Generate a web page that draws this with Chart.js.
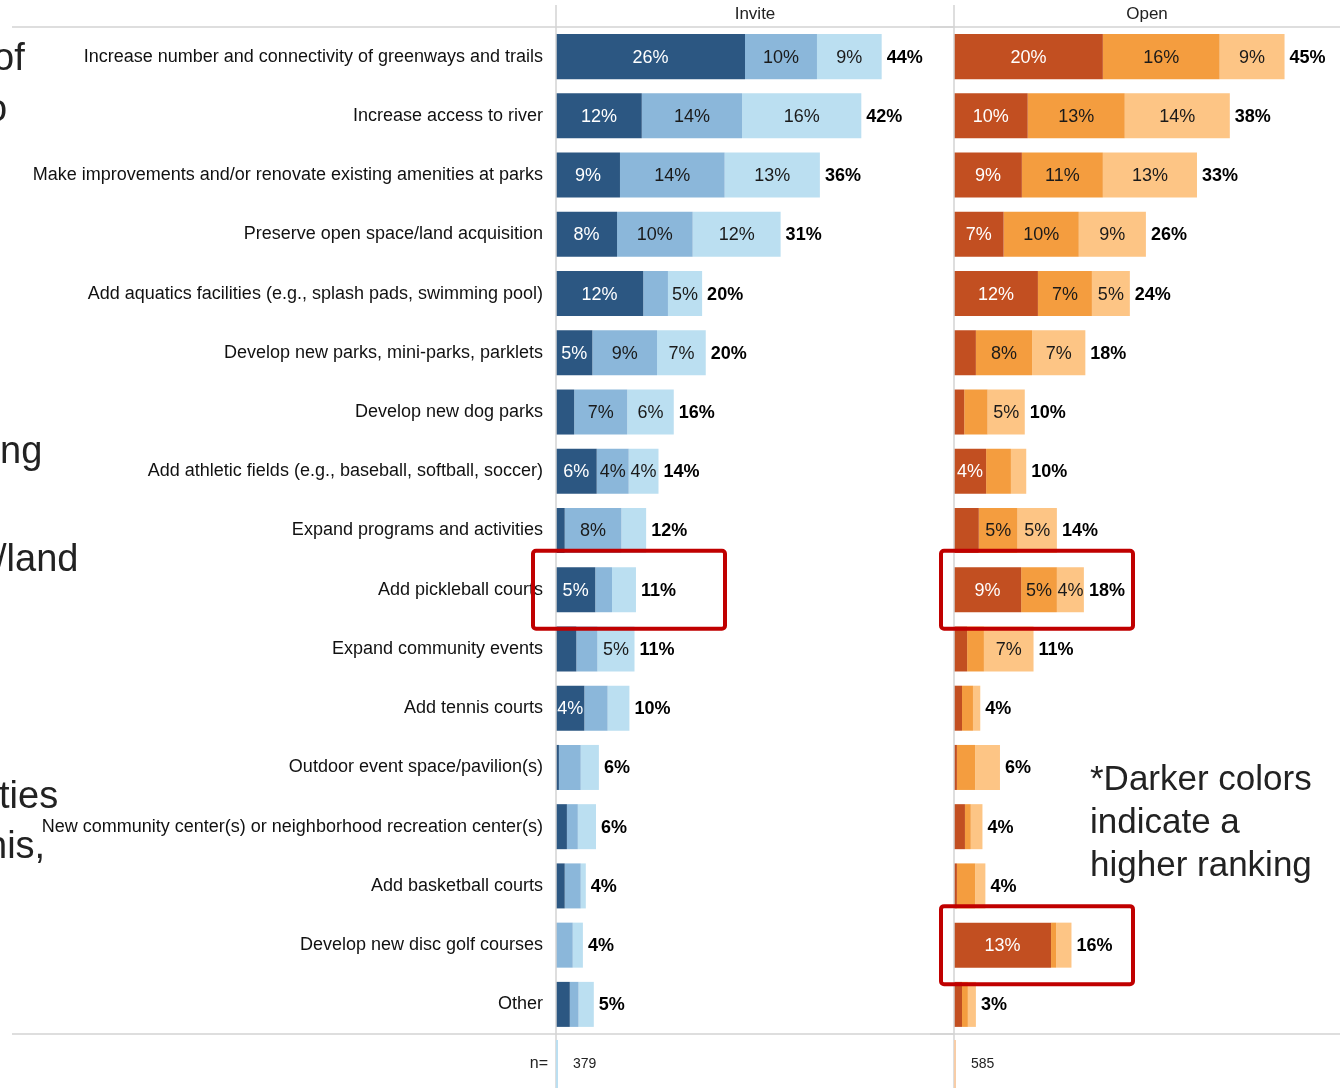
<!DOCTYPE html>
<html>
<head>
<meta charset="utf-8">
<script src="https://cdn.jsdelivr.net/npm/chart.js@4.4.1/dist/chart.umd.min.js"></script>
<style>
  html, body { margin: 0; padding: 0; background: #fff; }
  #wrap { position: relative; width: 1340px; height: 1088px; overflow: hidden; font-family: "Liberation Sans", Arial, sans-serif; }
  #invite { position: absolute; left: 0; top: 0; }
  #open { position: absolute; left: 930px; top: 0; }
  .slide { position: absolute; font-size: 38px; color: #222; white-space: nowrap; line-height: 1; }
  .note { position: absolute; left: 1090px; top: 756px; font-size: 35px; line-height: 43px; color: #222; white-space: nowrap; }
</style>
</head>
<body>
<div id="wrap">
  <canvas id="invite" width="954" height="1088"></canvas>
  <canvas id="open" width="410" height="1088"></canvas>
  <!-- bits of the slide text behind the chart, cut by the left edge -->
  <div class="slide" style="left:-7px; top:38px;">of</div>
  <div class="slide" style="left:-14px; top:89px;">o</div>
  <div class="slide" style="left:0px; top:431px;">ng</div>
  <div class="slide" style="left:-4px; top:539px;">/land</div>
  <div class="slide" style="left:-1px; top:776px;">ties</div>
  <div class="slide" style="left:-14px; top:826px;">his,</div>
  <div class="note">*Darker colors<br>indicate a<br>higher ranking</div>
</div>
<script>
const categories = [
  "Increase number and connectivity of greenways and trails",
  "Increase access to river",
  "Make improvements and/or renovate existing amenities at parks",
  "Preserve open space/land acquisition",
  "Add aquatics facilities (e.g., splash pads, swimming pool)",
  "Develop new parks, mini-parks, parklets",
  "Develop new dog parks",
  "Add athletic fields (e.g., baseball, softball, soccer)",
  "Expand programs and activities",
  "Add pickleball courts",
  "Expand community events",
  "Add tennis courts",
  "Outdoor event space/pavilion(s)",
  "New community center(s) or neighborhood recreation center(s)",
  "Add basketball courts",
  "Develop new disc golf courses",
  "Other"
];
const ranks = ["1st choice", "2nd choice", "3rd choice"];

// Invite sample, % of respondents
const invite1 = [26, 11.8, 8.8, 8.4, 12, 5, 2.5, 5.6, 1.2, 5.4, 2.8, 3.9, 0.4, 1.5, 1.2, 0, 1.9];
const invite2 = [9.9, 13.8, 14.4, 10.4, 3.4, 8.9, 7.3, 4.4, 7.8, 2.3, 2.9, 3.2, 3.0, 1.5, 2.2, 2.3, 1.2];
const invite3 = [8.9, 16.4, 13.1, 12.1, 4.7, 6.7, 6.4, 4.1, 3.4, 3.3, 5.1, 3.0, 2.5, 2.5, 0.7, 1.4, 2.1];
const inviteTotal = [44, 42, 36, 31, 20, 20, 16, 14, 12, 11, 11, 10, 6, 6, 4, 4, 5];

// Open sample
const open1 = [20.4, 10.1, 9.3, 6.8, 11.5, 3.0, 1.4, 4.4, 3.4, 9.2, 1.8, 1.1, 0.4, 1.5, 0.4, 13.3, 1.1];
const open2 = [16, 13.3, 11.1, 10.3, 7.4, 7.7, 3.2, 3.4, 5.3, 4.9, 2.3, 1.5, 2.5, 0.8, 2.5, 0.7, 0.8];
const open3 = [8.9, 14.4, 12.9, 9.2, 5.2, 7.3, 5.1, 2.1, 5.4, 3.7, 6.8, 1.0, 3.4, 1.6, 1.4, 2.1, 1.1];
const openTotal = [45, 38, 33, 26, 24, 18, 10, 10, 14, 18, 11, 4, 6, 4, 4, 16, 3];

const inviteN = 379;
const openN = 585;

const BLUES = ["#2C5782", "#8BB7DA", "#BBDFF1"];
const ORANGES = ["#C24F21", "#F49D3F", "#FDC585"];
const FONT = "'Liberation Sans', Arial, sans-serif";
Chart.defaults.font.family = FONT;

function panelPlugin(opt) {
  return {
    id: "panel",
    afterDatasetsDraw(chart) {
      const { ctx, chartArea: a, scales: { y } } = chart;
      ctx.save();

      // frame lines
      ctx.strokeStyle = "#d3d3d3";
      ctx.lineWidth = 1.5;
      ctx.beginPath();
      ctx.moveTo(opt.lineFrom, a.top); ctx.lineTo(chart.width, a.top);
      ctx.moveTo(opt.lineFrom, a.bottom); ctx.lineTo(chart.width, a.bottom);
      ctx.stroke();
      ctx.beginPath();
      ctx.moveTo(a.left, 5); ctx.lineTo(a.left, chart.height);
      ctx.stroke();

      // header
      ctx.fillStyle = "#222";
      ctx.font = "17px " + FONT;
      ctx.textAlign = "center";
      ctx.textBaseline = "middle";
      ctx.fillText(opt.title, (a.left + a.right) / 2, 14);

      // segment labels
      ctx.font = "18px " + FONT;
      chart.data.datasets.forEach((ds, di) => {
        chart.getDatasetMeta(di).data.forEach((bar, i) => {
          const v = ds.data[i];
          if (v < 3.5) return;
          ctx.fillStyle = di === 0 ? "#fff" : "#1a1a1a";
          ctx.fillText(Math.round(v) + "%", (bar.x + bar.base) / 2, bar.y + 1);
        });
      });

      // totals
      const last = chart.getDatasetMeta(chart.data.datasets.length - 1).data;
      ctx.font = "bold 18px " + FONT;
      ctx.fillStyle = "#000";
      ctx.textAlign = "left";
      last.forEach((bar, i) => {
        ctx.fillText(opt.totals[i] + "%", bar.x + 5, bar.y + 1);
      });

      // n row
      ctx.fillStyle = opt.nBar;
      ctx.fillRect(a.left, a.bottom + 6, 2, 48);
      ctx.fillStyle = "#222";
      ctx.font = "14px " + FONT;
      ctx.fillText(String(opt.n), a.left + 17, a.bottom + 30);
      if (opt.showNLabel) {
        ctx.font = "16px " + FONT;
        ctx.textAlign = "right";
        ctx.fillText("n=", a.left - 8, a.bottom + 30);
      }

      // red highlight boxes
      ctx.strokeStyle = "#C00000";
      ctx.lineWidth = 4;
      opt.highlights.forEach((name) => {
        const yc = y.getPixelForValue(categories.indexOf(name));
        ctx.beginPath();
        ctx.roundRect(a.left - opt.boxLeft, yc - 39, opt.boxLeft + opt.boxRight, 78, 3);
        ctx.stroke();
      });
      ctx.restore();
    }
  };
}

function makeChart(id, vals, colors, max, showLabels, pad) {
  return new Chart(document.getElementById(id), {
    type: "bar",
    data: {
      labels: categories,
      datasets: vals.map((d, k) => ({
        label: ranks[k],
        data: d,
        backgroundColor: colors[k],
        borderWidth: 0,
        barPercentage: 0.76,
        categoryPercentage: 1
      }))
    },
    options: {
      indexAxis: "y",
      responsive: false,
      animation: false,
      layout: { padding: { top: 27, bottom: 54, left: pad, right: 0 } },
      plugins: { legend: { display: false }, tooltip: { enabled: false } },
      scales: {
        x: { stacked: true, min: 0, max: max, display: false },
        y: {
          stacked: true,
          display: showLabels,
          grid: { display: false },
          border: { display: false },
          ticks: { color: "#111", font: { size: 18 }, padding: 5, autoSkip: false },
          afterFit: (s) => { if (showLabels) s.width = 556; }
        }
      }
    },
    plugins: [panelPlugin(showLabels ? {
      title: "Invite", totals: inviteTotal, n: inviteN, nBar: "#BBDFF1", showNLabel: true,
      highlights: ["Add pickleball courts"], boxLeft: 23, boxRight: 169, lineFrom: 12
    } : {
      title: "Open", totals: openTotal, n: openN, nBar: "#F7CDA8", showNLabel: false,
      highlights: ["Add pickleball courts", "Develop new disc golf courses"], boxLeft: 13, boxRight: 179, lineFrom: 0
    })]
  });
}

makeChart("invite", [invite1, invite2, invite3], BLUES, 54.75, true, 0);
makeChart("open", [open1, open2, open3], ORANGES, 52.9, false, 24);
</script>
</body>
</html>
